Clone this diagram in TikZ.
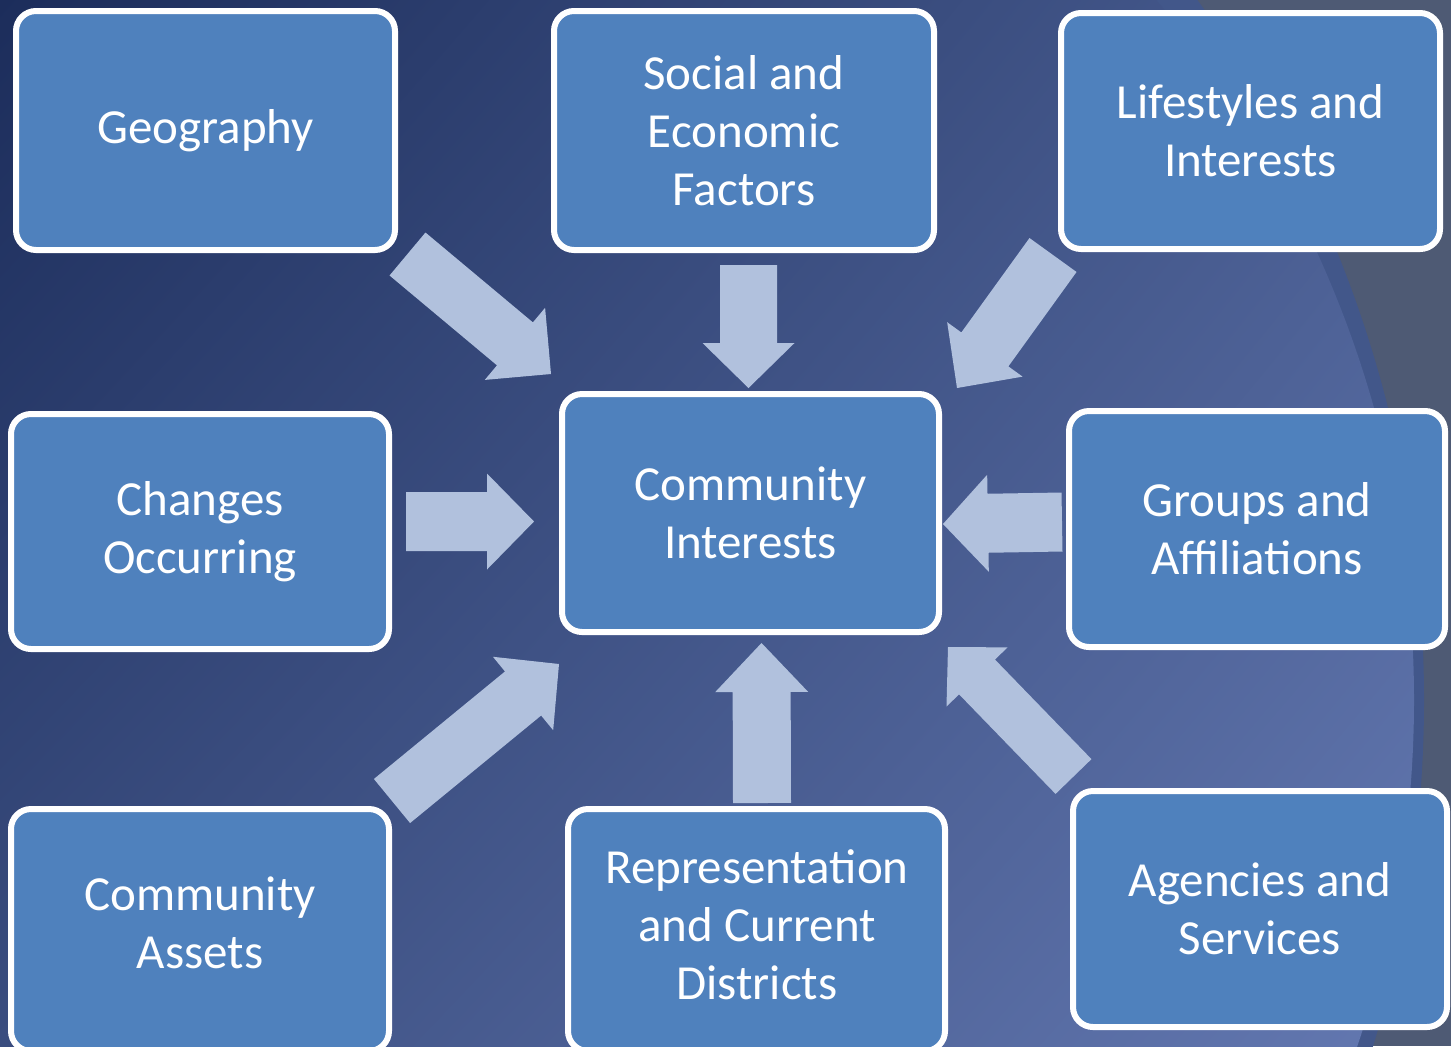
\documentclass[tikz,border=0pt]{standalone}
\usepackage{fontspec}
\setmainfont{Carlito}
\usetikzlibrary{calc,shadings}
\definecolor{boxfill}{HTML}{4F81BD}
\definecolor{arrowcol}{HTML}{B1C1DD}
\definecolor{bggray}{HTML}{4E5A74}
\definecolor{bandcol}{HTML}{42578A}
\definecolor{bgUL}{HTML}{1C2D5B}
\definecolor{bgUR}{HTML}{4A5E92}
\definecolor{bgLL}{HTML}{3A4D7F}
\definecolor{bgLR}{HTML}{6479B2}
\newcommand{\blockarr}[4]{%
  \coordinate (#1-b) at ($(#1-h)!#4!(#1-t)$);
  \fill[arrowfill] ($(#1-t)!#2!90:(#1-h)$) -- ($(#1-b)!#2!-90:(#1-t)$) -- ($(#1-b)!#3!-90:(#1-t)$) -- (#1-h) -- ($(#1-b)!#3!90:(#1-t)$) -- ($(#1-b)!#2!90:(#1-t)$) -- ($(#1-t)!#2!-90:(#1-h)$) -- cycle;}
\begin{document}
\begin{tikzpicture}[x=0.5pt,y=-0.5pt,
  boxtext/.style={text=white, align=center, inner sep=0pt,
    font=\fontsize{24.5pt}{29pt}\selectfont},
  box/.style={draw=white, line width=3pt, fill=boxfill, rounded corners=10pt, boxtext},
  arrowfill/.style={fill=arrowcol}]
\useasboundingbox (0,0) rectangle (1451,1046);
\begin{scope}
\clip (0,0) rectangle (1451,1046);
% background
\fill[bggray] (0,0) rectangle (1451,1046);
\fill[bandcol] (230,700) circle[radius=597pt];
\begin{scope}
\clip (335,700) circle[radius=539.5pt];
\shade[upper left=bgUL, upper right=bgUR, lower left=bgLL, lower right=bgLR] (0,0) rectangle (1451,1046);
\end{scope}
% arrows
\coordinate (a1-t) at (407.5,254); \coordinate (a1-h) at (551,374);
\coordinate (a2-t) at (748.5,265); \coordinate (a2-h) at (748.5,388);
\coordinate (a3-t) at (1053,255);  \coordinate (a3-h) at (957,388);
\coordinate (a4-t) at (406,521.5); \coordinate (a4-h) at (534,521.5);
\coordinate (a5-t) at (1062,522);  \coordinate (a5-h) at (943,524);
\coordinate (a6-t) at (392,801);   \coordinate (a6-h) at (559,664);
\coordinate (a7-t) at (762,803);   \coordinate (a7-h) at (761.5,643);
\coordinate (a8-t) at (1073.5,776.5); \coordinate (a8-h) at (948,647);
\blockarr{a1}{14pt}{23.5pt}{23.5pt}
\blockarr{a2}{14.25pt}{23pt}{22.5pt}
\blockarr{a3}{14.5pt}{23.25pt}{23.8pt}
\blockarr{a4}{14.75pt}{24pt}{23.5pt}
\blockarr{a5}{14.75pt}{24.25pt}{22.5pt}
\blockarr{a6}{14.25pt}{23.75pt}{23.25pt}
\blockarr{a7}{14.5pt}{23.25pt}{24.5pt}
\blockarr{a8}{12.5pt}{21.25pt}{20.85pt}
% boxes
\node[box, minimum width=189.5pt, minimum height=119.5pt] (geo) at (205.5,130.5) {Geography};
\node[box, minimum width=190pt, minimum height=119.5pt] (soc) at (744,130.5) {Social and\\Economic\\Factors};
\node[box, minimum width=189.5pt, minimum height=118pt] (life) at (1250.5,131) {Lifestyles and\\Interests};
\node[box, minimum width=189pt, minimum height=117.5pt] (chg) at (200,531.5) {Changes\\Occurring};
\node[box, minimum width=188.5pt, minimum height=119pt] (ci) at (750.5,513) {Community\\Interests};
\node[box, minimum width=188pt, minimum height=118pt] (grp) at (1257,529) {Groups and\\Affiliations};
\node[box, minimum width=189pt, minimum height=121pt] (assets) at (200,930) {};
\node[boxtext] (assets-text) at (200,923) {Community\\Assets};
\node[box, minimum width=188.5pt, minimum height=121pt] (rep) at (756.5,930) {};
\node[boxtext] (rep-text) at (757,925) {Representation\\and Current\\Districts};
\node[box, minimum width=187pt, minimum height=118pt] (agn) at (1260,909) {Agencies and\\Services};
\end{scope}
\end{tikzpicture}
\end{document}
